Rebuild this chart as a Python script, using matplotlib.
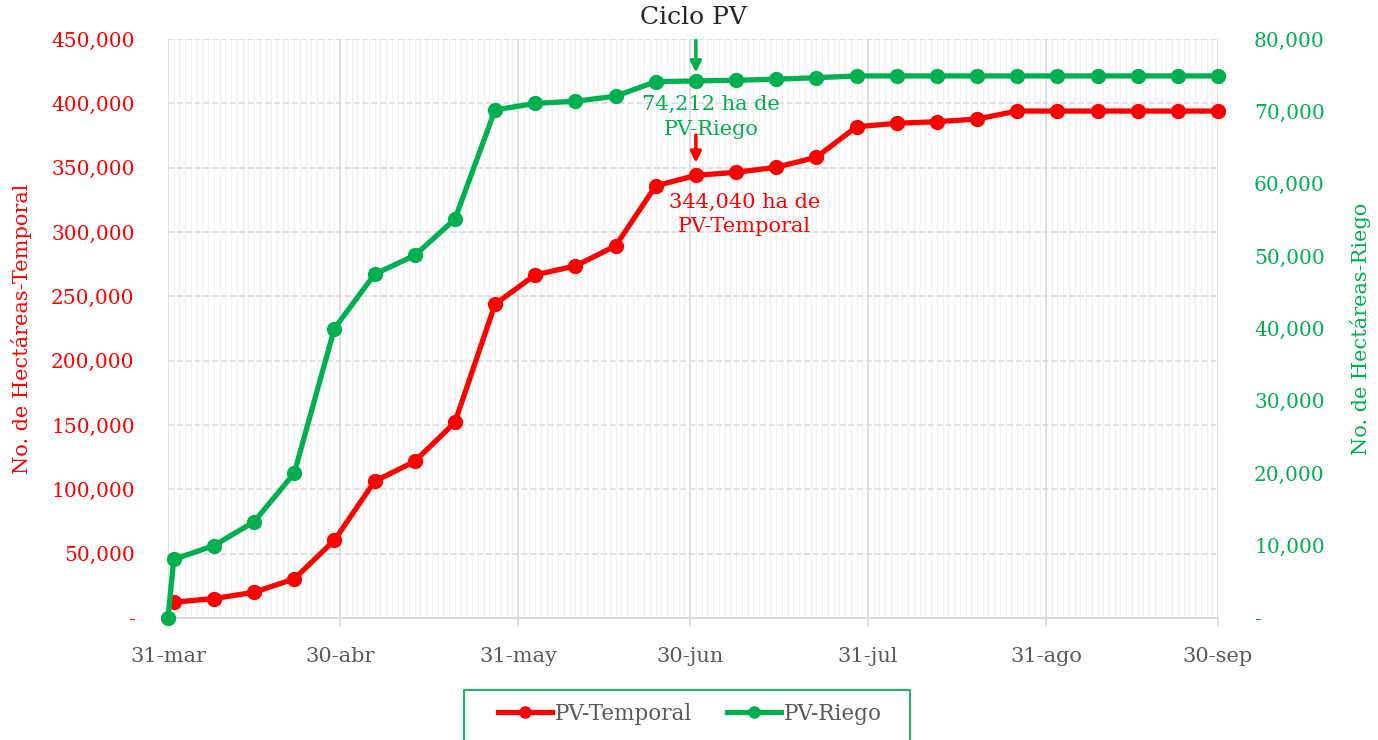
import matplotlib
matplotlib.use("Agg")
import matplotlib.pyplot as plt
import matplotlib.dates as mdates
from matplotlib.ticker import FuncFormatter
from matplotlib.lines import Line2D
from matplotlib.patches import Rectangle
import numpy as np

plt.rcParams['font.family'] = ['DejaVu Serif']

ROJO = '#FF0000'
VERDE = '#00B050'
GRIS = '#595959'

# datos
fechas_temporal = ['2023-04-01', '2023-04-08', '2023-04-15', '2023-04-22', '2023-04-29',
                   '2023-05-06', '2023-05-13', '2023-05-20', '2023-05-27', '2023-06-03',
                   '2023-06-10', '2023-06-17', '2023-06-24', '2023-07-01', '2023-07-08',
                   '2023-07-15', '2023-07-22', '2023-07-29', '2023-08-05', '2023-08-12',
                   '2023-08-19', '2023-08-26', '2023-09-02', '2023-09-09', '2023-09-16',
                   '2023-09-23', '2023-09-30']
pv_temporal = [12300, 15100, 20000, 30400, 60400, 106200, 121700, 152000, 243900, 266700,
               273600, 289200, 335800, 344040, 346400, 350300, 358100, 381800, 384500, 385700,
               387800, 394000, 394000, 394000, 394000, 394000, 394000]

fechas_riego = ['2023-03-31'] + fechas_temporal
pv_riego = [0, 8100, 10000, 13300, 20000, 40000, 47500, 50100, 55100, 70200, 71100,
            71400, 72100, 74100, 74212, 74300, 74450, 74650, 74900, 74900, 74900,
            74900, 74900, 74900, 74900, 74900, 74900, 74900]

fechas_ticks = ['2023-03-31', '2023-04-30', '2023-05-31', '2023-06-30',
                '2023-07-31', '2023-08-31', '2023-09-30']
etiquetas_ticks = ['31-mar', '30-abr', '31-may', '30-jun', '31-jul', '31-ago', '30-sep']

x_temp = np.array(fechas_temporal, dtype='datetime64[D]')
x_riego = np.array(fechas_riego, dtype='datetime64[D]')
x_ticks = np.array(fechas_ticks, dtype='datetime64[D]')

fig = plt.figure(figsize=(13.78, 7.40), dpi=100)
ax = fig.add_axes([168/1378, 1-618/740, (1218-168)/1378, (618-39)/740])
ax2 = ax.twinx()

ax.plot(x_temp, pv_temporal, color=ROJO, linewidth=3.8, marker='o', markersize=10, clip_on=False, zorder=3)
ax2.plot(x_riego, pv_riego, color=VERDE, linewidth=3.8, marker='o', markersize=10, clip_on=False, zorder=3)

ax.set_xlim(x_ticks[0], x_ticks[-1])
ax.set_ylim(0, 450000)
ax2.set_ylim(0, 80000)
ax.set_yticks(np.arange(0, 450001, 50000))
ax2.set_yticks(np.arange(0, 80001, 10000))

fmt = FuncFormatter(lambda v, p: '-' if v == 0 else '{:,.0f}'.format(v))
ax.yaxis.set_major_formatter(fmt)
ax2.yaxis.set_major_formatter(fmt)

ax.set_xticks(x_ticks)
ax.set_xticklabels(etiquetas_ticks)
ax.xaxis.set_minor_locator(mdates.DayLocator())

ax.grid(which='major', axis='x', color='#d9d9d9', linestyle='-', linewidth=1.2)
ax.grid(which='minor', axis='x', color='#f2f2f2', linestyle='-', linewidth=1.0)
ax.grid(which='major', axis='y', color='#dcdcdc', linestyle='--', linewidth=1.2)
ax.set_axisbelow(True)

for a in (ax, ax2):
    for s in ('top', 'left', 'right'):
        a.spines[s].set_visible(False)
    a.spines['bottom'].set_color('#d9d9d9')
    a.spines['bottom'].set_linewidth(1.2)

ax.tick_params(axis='x', which='major', colors='#d9d9d9', labelcolor=GRIS, length=6, width=1.2, labelsize=15, pad=15)
ax.tick_params(axis='x', which='minor', length=0)
ax.tick_params(axis='y', length=0, labelcolor=ROJO, labelsize=14.5, pad=24)
ax2.tick_params(axis='y', length=0, labelcolor=VERDE, labelsize=14.5, pad=26)

ax.set_ylabel('No. de Hectáreas-Temporal', color=ROJO, fontsize=15, labelpad=14)
ax2.set_ylabel('No. de Hectáreas-Riego', color=VERDE, fontsize=15, rotation=90, labelpad=18)

fig.text(693/1378, 1-17/740, 'Ciclo PV', ha='center', va='center', fontsize=18, color='#262626')

# anotaciones
i_r = fechas_riego.index('2023-07-01')
i_t = fechas_temporal.index('2023-07-01')
ax2.annotate('', xy=(x_riego[i_r], pv_riego[i_r]), xytext=(0, 29), textcoords='offset points',
             arrowprops=dict(arrowstyle='-|>', color=VERDE, lw=2.5, mutation_scale=16, shrinkA=0, shrinkB=6))
ax2.annotate('{:,} ha de\nPV-Riego'.format(pv_riego[i_r]), xy=(x_riego[i_r], pv_riego[i_r]),
             xytext=(11, -26), textcoords='offset points', ha='center', va='center',
             color=VERDE, fontsize=15, linespacing=1.35)
ax.annotate('', xy=(x_temp[i_t], pv_temporal[i_t]), xytext=(0, 29), textcoords='offset points',
            arrowprops=dict(arrowstyle='-|>', color=ROJO, lw=2.5, mutation_scale=16, shrinkA=0, shrinkB=9))
ax.annotate('{:,} ha de\nPV-Temporal'.format(pv_temporal[i_t]), xy=(x_temp[i_t], pv_temporal[i_t]),
            xytext=(35, -28), textcoords='offset points', ha='center', va='center',
            color=ROJO, fontsize=15, linespacing=1.35)

handles = [Line2D([], [], color=ROJO, linewidth=3.8, marker='o', markersize=8),
           Line2D([], [], color=VERDE, linewidth=3.8, marker='o', markersize=8)]
leg = fig.legend(handles, ['PV-Temporal', 'PV-Riego'], loc='center',
                 bbox_to_anchor=(690/1378, 1-714/740), ncol=2, fontsize=15.5,
                 frameon=False, handlelength=2.5, handletextpad=0.15,
                 columnspacing=1.6, labelcolor=GRIS, borderaxespad=0, borderpad=0)
# marco de la leyenda (recortado abajo como en el original)
fig.patches.append(Rectangle((464/1378, -10/740), (910-464)/1378, (740-690+10)/740,
                             transform=fig.transFigure, fill=False, edgecolor=VERDE, linewidth=1.3))

fig.savefig('out.png', dpi=100)
